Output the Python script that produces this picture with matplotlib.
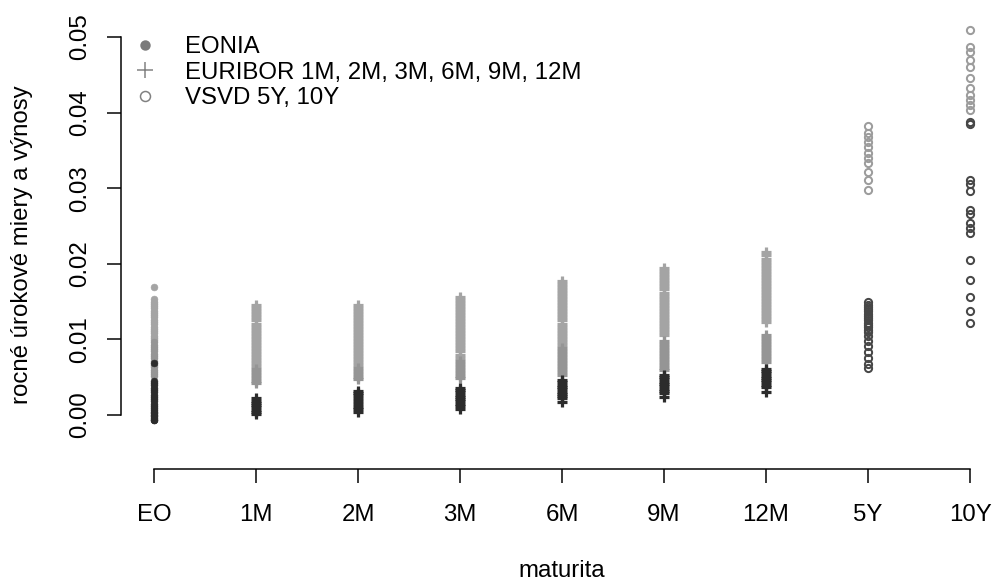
import matplotlib
matplotlib.use("Agg")
import matplotlib.pyplot as plt
from matplotlib.lines import Line2D

# categories on the x axis
maturities = ["EO", "1M", "2M", "3M", "6M", "9M", "12M", "5Y", "10Y"]

# EONIA, daily fixings grouped by period (older = lighter)
eonia_light = [0.0169, 0.0153, 0.0150, 0.0147, 0.0144, 0.0141, 0.0138, 0.0135,
               0.0132, 0.0129, 0.0126, 0.0123, 0.0120, 0.0117, 0.0114, 0.0111,
               0.0108, 0.0105, 0.0102, 0.0099]
eonia_mid = [0.0096, 0.0093, 0.0090, 0.0087, 0.0084, 0.0081, 0.0078, 0.0075,
             0.0072, 0.0066, 0.0063, 0.0060, 0.0057, 0.0054, 0.0052]
eonia_dark = [0.0069, 0.0045, 0.0042, 0.0039, 0.0036, 0.0033, 0.0030, 0.0027,
              0.0024, 0.0021, 0.0018, 0.0015, 0.0012, 0.0009, 0.0006, 0.0004,
              0.0002, 0.0000, -0.0002, -0.0004, -0.0006, -0.0007]

# EURIBOR fixings per tenor
eur_1m_light = [0.0145, 0.0141, 0.0137, 0.0133, 0.0129, 0.0125, 0.0121, 0.0117,
                0.0113, 0.0109, 0.0105, 0.0101, 0.0097, 0.0093, 0.0089, 0.0085,
                0.0081, 0.0077, 0.0073, 0.0069, 0.0065]
eur_1m_mid = [0.0061, 0.0057, 0.0053, 0.0049, 0.0045, 0.0042]
eur_1m_dark = [0.0022, 0.0019, 0.0016, 0.0013, 0.0010, 0.0007, 0.0004, 0.0001]

eur_2m_light = [0.0146, 0.0142, 0.0138, 0.0134, 0.0130, 0.0126, 0.0122, 0.0118,
                0.0114, 0.0110, 0.0106, 0.0102, 0.0098, 0.0094, 0.0090, 0.0086,
                0.0082, 0.0078, 0.0074, 0.0070, 0.0066]
eur_2m_mid = [0.0062, 0.0058, 0.0054, 0.0050, 0.0047]
eur_2m_dark = [0.0032, 0.0029, 0.0026, 0.0022, 0.0018, 0.0014, 0.0011, 0.0008,
               0.0004]

eur_3m_light = [0.0156, 0.0152, 0.0148, 0.0144, 0.0140, 0.0136, 0.0132, 0.0128,
                0.0124, 0.0120, 0.0116, 0.0112, 0.0108, 0.0104, 0.0100, 0.0096,
                0.0092, 0.0088, 0.0084, 0.0080, 0.0076]
eur_3m_mid = [0.0072, 0.0068, 0.0064, 0.0060, 0.0056, 0.0052, 0.0049]
eur_3m_dark = [0.0036, 0.0033, 0.0030, 0.0027, 0.0024, 0.0021, 0.0018, 0.0015,
               0.0012, 0.0008]

eur_6m_light = [0.0177, 0.0173, 0.0169, 0.0165, 0.0161, 0.0157, 0.0153, 0.0149,
                0.0145, 0.0141, 0.0137, 0.0133, 0.0129, 0.0125, 0.0121, 0.0117,
                0.0113, 0.0109, 0.0105, 0.0101, 0.0097, 0.0093]
eur_6m_mid = [0.0089, 0.0085, 0.0081, 0.0077, 0.0073, 0.0069, 0.0065, 0.0061,
              0.0057, 0.0053]
eur_6m_dark = [0.0046, 0.0043, 0.0040, 0.0037, 0.0034, 0.0031, 0.0028, 0.0025,
               0.0022, 0.0017]

eur_9m_light = [0.0194, 0.0190, 0.0186, 0.0182, 0.0178, 0.0174, 0.0170, 0.0166,
                0.0162, 0.0158, 0.0154, 0.0150, 0.0146, 0.0142, 0.0138, 0.0134,
                0.0130, 0.0126, 0.0122, 0.0118, 0.0114, 0.0110, 0.0106]
eur_9m_mid = [0.0098, 0.0094, 0.0090, 0.0086, 0.0082, 0.0078, 0.0074, 0.0070,
              0.0066, 0.0062, 0.0059]
eur_9m_dark = [0.0053, 0.0050, 0.0047, 0.0044, 0.0041, 0.0038, 0.0035, 0.0032,
               0.0029, 0.0024]

eur_12m_light = [0.0215, 0.0211, 0.0207, 0.0203, 0.0199, 0.0195, 0.0191, 0.0187,
                 0.0183, 0.0179, 0.0175, 0.0171, 0.0167, 0.0163, 0.0159, 0.0155,
                 0.0151, 0.0147, 0.0143, 0.0139, 0.0135, 0.0131, 0.0127, 0.0123]
eur_12m_mid = [0.0106, 0.0102, 0.0098, 0.0094, 0.0090, 0.0086, 0.0082, 0.0078,
               0.0074, 0.0070]
eur_12m_dark = [0.0061, 0.0058, 0.0055, 0.0052, 0.0049, 0.0046, 0.0043, 0.0040,
                0.0037, 0.0031]

# government bond yields (VSVD)
vsvd_5y_light = [0.0382, 0.0373, 0.0368, 0.0361, 0.0354, 0.0347, 0.0340,
                 0.0333, 0.0321, 0.0311, 0.0298]
vsvd_5y_dark = [0.0149, 0.0146, 0.0143, 0.0140, 0.0137, 0.0134, 0.0131, 0.0128,
                0.0125, 0.0122, 0.0119, 0.0116, 0.0113, 0.0110, 0.0104, 0.0098,
                0.0091, 0.0083, 0.0075, 0.0067, 0.0062]
vsvd_10y_light = [0.0509, 0.0487, 0.0480, 0.0470, 0.0460, 0.0446, 0.0433,
                  0.0423, 0.0417, 0.0410, 0.0403]
vsvd_10y_dark = [0.0388, 0.0385, 0.0311, 0.0305, 0.0296, 0.0271, 0.0266, 0.0254,
                 0.0248, 0.0241, 0.0205, 0.0179, 0.0156, 0.0138, 0.0122]

y_ticks = [0.00, 0.01, 0.02, 0.03, 0.04, 0.05]

LIGHT = "#a4a4a4"
MID = "#959595"
DARK = "#2c2c2c"

plt.rcParams["font.family"] = ["Liberation Sans", "DejaVu Sans"]
plt.rcParams["font.size"] = 12

W, H = 994, 583
fig = plt.figure(figsize=(W / 144, H / 144), dpi=144)
ax = fig.add_axes([121.4 / W, (H - 469.4) / H, (W - 121.4) / W, 449.0 / H])


def column(x, values, color, kind):
    xs = [x] * len(values)
    if kind == "dot":
        ax.plot(xs, values, linestyle="none", marker="o", ms=3.4,
                mfc=color, mec=color, mew=0.3)
    elif kind == "plus":
        ax.plot(xs, values, linestyle="none", marker="+", ms=5.2,
                mec=color, mew=1.6)
    else:
        ax.plot(xs, values, linestyle="none", marker="o", ms=3.6,
                mfc="none", mec=color, mew=1.0)


column(1, eonia_light, LIGHT, "dot")
column(1, eonia_mid, MID, "dot")
column(1, eonia_dark, DARK, "dot")

euribor = [
    (2, eur_1m_light, eur_1m_mid, eur_1m_dark),
    (3, eur_2m_light, eur_2m_mid, eur_2m_dark),
    (4, eur_3m_light, eur_3m_mid, eur_3m_dark),
    (5, eur_6m_light, eur_6m_mid, eur_6m_dark),
    (6, eur_9m_light, eur_9m_mid, eur_9m_dark),
    (7, eur_12m_light, eur_12m_mid, eur_12m_dark),
]
for x, light, mid, dark in euribor:
    column(x, light, LIGHT, "plus")
    column(x, mid, MID, "plus")
    column(x, dark, DARK, "plus")

column(8, vsvd_5y_light, "#9c9c9c", "ring")
column(8, vsvd_5y_dark, "#474747", "ring")
column(9, vsvd_10y_light, "#9c9c9c", "ring")
column(9, vsvd_10y_dark, "#474747", "ring")

ax.set_xlim(0.68, 1 + (W - 154) / 102)
ax.set_ylim(-0.0072, 0.0522)

for side in ["top", "right"]:
    ax.spines[side].set_visible(False)
ax.spines["left"].set_bounds(0, 0.05)
ax.spines["bottom"].set_bounds(1, 9)
ax.spines["left"].set_linewidth(0.75)
ax.spines["bottom"].set_linewidth(0.75)

ax.set_xticks(range(1, 10))
ax.set_xticklabels(maturities)
ax.set_yticks(y_ticks)
ax.set_yticklabels(["%.2f" % v for v in y_ticks], rotation=90, va="center")
ax.tick_params(axis="both", length=7.2, width=0.75, labelsize=12)
ax.tick_params(axis="x", pad=10)
ax.tick_params(axis="y", pad=8)

fig.text(562 / W, 1 / H, "maturita", ha="center", va="bottom", fontsize=12)
fig.text(33 / W, (H - 245) / H, "rocné úrokové miery a výnosy", rotation=90,
         ha="right", va="center", fontsize=12)

handles = [
    Line2D([], [], linestyle="none", marker="o", ms=4.2, mfc="#7a7a7a",
           mec="#7a7a7a"),
    Line2D([], [], linestyle="none", marker="+", ms=8, mec="#808080", mew=0.75),
    Line2D([], [], linestyle="none", marker="o", ms=5, mfc="none",
           mec="#808080", mew=0.75),
]
labels = ["EONIA", "EURIBOR 1M, 2M, 3M, 6M, 9M, 12M", "VSVD 5Y, 10Y"]
fig.legend(handles, labels, loc="upper left",
           bbox_to_anchor=(133 / W, 1 - 36 / H), bbox_transform=fig.transFigure,
           frameon=False, fontsize=12, handlelength=1.0, handletextpad=1.15,
           labelspacing=0.15, borderpad=0, borderaxespad=0)

fig.savefig("out.png", dpi=144)
